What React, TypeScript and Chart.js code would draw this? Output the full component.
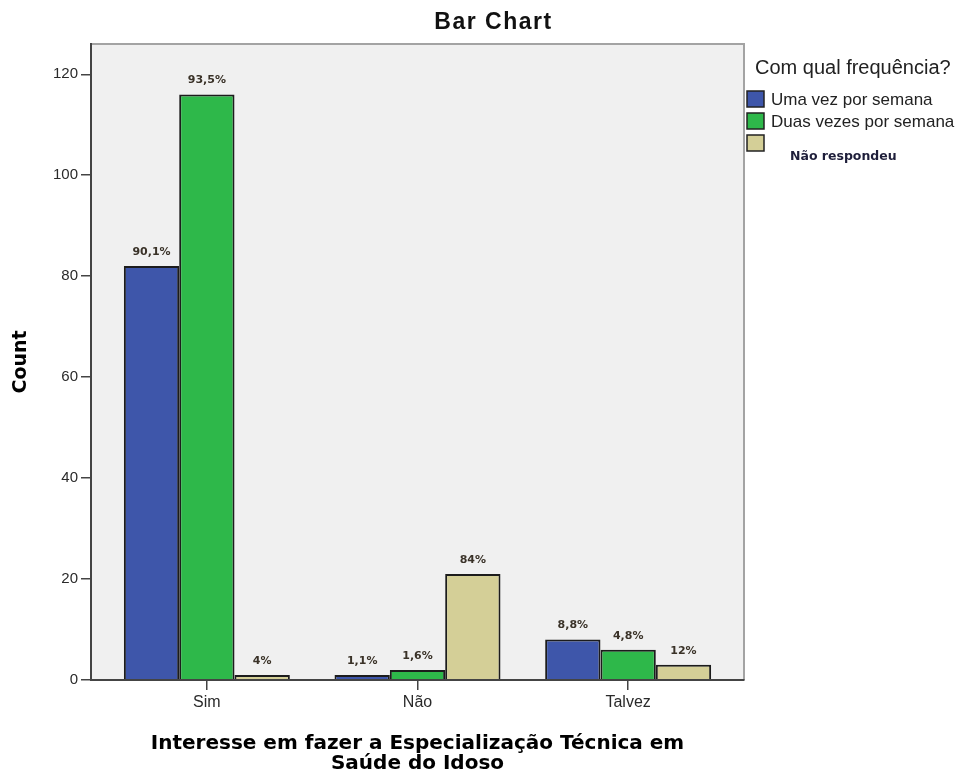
import React, { useEffect, useRef } from "react";
import { Chart, registerables } from "chart.js";

Chart.register(...registerables);

const categories = ["Sim", "Não", "Talvez"];
const seriesNames = ["Uma vez por semana", "Duas vezes por semana", "Não respondeu"];
const umaVez = [82, 1, 8];
const duasVezes = [116, 2, 6];
const naoRespondeu = [1, 21, 3];
const umaVezPct = ["90,1%", "1,1%", "8,8%"];
const duasVezesPct = ["93,5%", "1,6%", "4,8%"];
const naoRespondeuPct = ["4%", "84%", "12%"];
const yTicks = [0, 20, 40, 60, 80, 100, 120];
const chartTitle = "Bar Chart";
const legendTitle = "Com qual frequência?";
const yTitle = "Count";
const xTitle = ["Interesse em fazer a Especialização Técnica em", "Saúde do Idoso"];
const colors = ["#3E56AA", "#2EB84A", "#D4CF97"];

const seriesValues = [umaVez, duasVezes, naoRespondeu];
const seriesPct = [umaVezPct, duasVezesPct, naoRespondeuPct];

const framePlugin = {
  id: "frame",
  beforeDraw(chart: any) {
    const { ctx, chartArea: a } = chart;
    ctx.save();
    ctx.fillStyle = "#F0F0F0";
    ctx.fillRect(a.left, a.top, a.right - a.left, a.bottom - a.top);
    ctx.strokeStyle = "#A3A3A3";
    ctx.lineWidth = 2;
    ctx.beginPath();
    ctx.moveTo(a.left, a.top);
    ctx.lineTo(a.right, a.top);
    ctx.lineTo(a.right, a.bottom);
    ctx.stroke();
    ctx.restore();
  },
};

const labelPlugin = {
  id: "pctLabels",
  afterDatasetsDraw(chart: any) {
    const { ctx } = chart;
    ctx.save();
    ctx.font = "bold 11px 'DejaVu Sans'";
    ctx.fillStyle = "#3a3228";
    ctx.textAlign = "center";
    ctx.textBaseline = "middle";
    chart.data.datasets.forEach((_ds: any, d: number) => {
      const meta = chart.getDatasetMeta(d);
      meta.data.forEach((el: any, i: number) => {
        ctx.fillText(seriesPct[d][i], el.x, el.y - 14);
      });
    });
    ctx.restore();
  },
};

const decorPlugin = {
  id: "decor",
  afterDraw(chart: any) {
    const { ctx, chartArea: a } = chart;
    ctx.save();
    // title
    ctx.fillStyle = "#111";
    ctx.font = "bold 23px 'Liberation Sans'";
    ctx.textAlign = "center";
    ctx.textBaseline = "middle";
    try {
      (ctx as any).letterSpacing = "1.5px";
    } catch (e) {}
    ctx.fillText(chartTitle, chart.width / 2 + 12, 23);
    try {
      (ctx as any).letterSpacing = "0px";
    } catch (e) {}
    // legend title
    ctx.textAlign = "left";
    ctx.font = "20px 'Liberation Sans'";
    ctx.fillStyle = "#222";
    ctx.fillText(legendTitle, a.right + 11, 68);
    // legend items
    const tops = [91, 113, 135];
    seriesNames.forEach((name, s) => {
      const bx = a.right + 3;
      const by = tops[s];
      ctx.fillStyle = colors[s];
      ctx.fillRect(bx, by, 17, 16);
      ctx.strokeStyle = "#222";
      ctx.lineWidth = 1.5;
      ctx.strokeRect(bx, by, 17, 16);
      if (s < 2) {
        ctx.fillStyle = "#222";
        ctx.font = "17px 'Liberation Sans'";
        ctx.fillText(name, a.right + 27, by + 9);
      } else {
        ctx.fillStyle = "#1e1e3a";
        ctx.font = "bold 12.5px 'DejaVu Sans'";
        ctx.fillText(name, a.right + 46, 157);
      }
    });
    ctx.restore();
  },
};

export default function App() {
  const ref = useRef<HTMLCanvasElement | null>(null);
  useEffect(() => {
    if (!ref.current) return;
    const chart = new Chart(ref.current, {
      type: "bar",
      data: {
        datasets: seriesValues.map((vals, s) => ({
          label: seriesNames[s],
          data: vals.map((v, i) => ({ x: i, y: v })),
          backgroundColor: colors[s],
          borderColor: "#1c1c1c",
          borderWidth: 2,
          categoryPercentage: 0.788,
          barPercentage: 1,
        })),
      },
      options: {
        animation: false,
        responsive: false,
        layout: { padding: { left: 0, top: 44, right: 219, bottom: 0 } },
        plugins: {
          legend: { display: false },
          title: { display: false },
          tooltip: { enabled: false },
        },
        scales: {
          x: {
            type: "linear",
            min: -0.55,
            max: 2.55,
            offset: false,
            afterBuildTicks: (s: any) => {
              s.ticks = categories.map((_c, i) => ({ value: i }));
            },
            afterFit: (s: any) => {
              s.height = 94;
            },
            grid: {
              display: true,
              offset: false,
              drawOnChartArea: false,
              drawTicks: true,
              tickLength: 10,
              color: "#444",
              lineWidth: 1.5,
            },
            border: { display: true, color: "#444", width: 2, z: 1 },
            ticks: {
              autoSkip: false,
              maxRotation: 0,
              padding: 3,
              color: "#2a2a2a",
              font: { family: "'Liberation Sans'", size: 16 },
              callback: (v: any) => categories[v] ?? "",
            },
            title: {
              display: true,
              text: xTitle,
              color: "#000",
              font: { family: "'DejaVu Sans'", size: 20, weight: "bold", lineHeight: 1.0 },
              padding: { top: 0, bottom: 0 },
            },
          },
          y: {
            min: 0,
            max: 126,
            afterBuildTicks: (s: any) => {
              s.ticks = yTicks.map((v) => ({ value: v }));
            },
            afterFit: (s: any) => {
              s.width = 91;
            },
            grid: {
              display: true,
              drawOnChartArea: false,
              drawTicks: true,
              tickLength: 10,
              color: "#444",
              lineWidth: 1.5,
            },
            border: { display: true, color: "#444", width: 2, z: 1 },
            ticks: {
              padding: 3,
              color: "#2a2a2a",
              font: { family: "'Liberation Sans'", size: 15 },
            },
            title: {
              display: true,
              text: yTitle,
              color: "#000",
              font: { family: "'DejaVu Sans'", size: 19, weight: "bold" },
              padding: { top: 10, bottom: 0 },
            },
          },
        },
      } as any,
      plugins: [framePlugin, labelPlugin, decorPlugin],
    });
    return () => chart.destroy();
  }, []);
  return (
    <div style={{ position: "absolute", left: 0, top: 0, width: 963, height: 774 }}>
      <canvas ref={ref} width={963} height={774} style={{ display: "block" }} />
    </div>
  );
}
